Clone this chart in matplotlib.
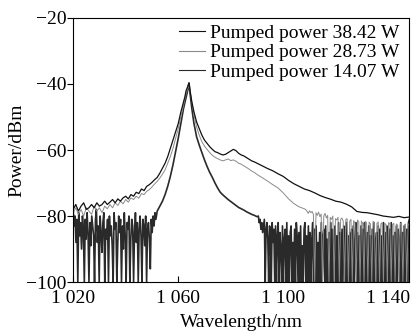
import numpy as np
import matplotlib
matplotlib.use("Agg")
import matplotlib.pyplot as plt

plt.rcParams['font.family'] = ['Liberation Serif', 'DejaVu Serif']
plt.rcParams['axes.unicode_minus'] = True

labels = ['Pumped power 38.42 W', 'Pumped power 28.73 W', 'Pumped power 14.07 W']
colors = ['#111111', '#8a8a8a', '#2a2a2a']

# 38.42 W spectrum
a_wl = [1020, 1021, 1022, 1023, 1024, 1025, 1026, 1027, 1028, 1029, 1030, 1031, 1032,
        1033, 1034, 1035, 1036, 1037, 1038, 1039, 1040, 1041, 1042, 1043, 1044, 1045,
        1046, 1047, 1048, 1049, 1050, 1051, 1052, 1053, 1054, 1055, 1056, 1057, 1058,
        1059, 1060, 1061, 1062, 1062.5, 1063, 1063.5, 1064.1, 1064.6, 1065.2, 1066,
        1067, 1068, 1069, 1070, 1071, 1072, 1073, 1074, 1075, 1076, 1077, 1078, 1079,
        1080, 1081, 1082, 1083, 1084, 1085, 1086, 1087, 1088, 1089, 1090, 1092, 1094,
        1096, 1098, 1100, 1102, 1104, 1106, 1108, 1110, 1112, 1114, 1116, 1118, 1120,
        1122, 1124, 1126, 1128, 1130, 1132, 1134, 1136, 1138, 1140, 1142, 1144, 1146, 1148]
a_dbm = [-78.0, -76.5, -78.5, -77.0, -76.0, -78.0, -77.5, -76.5, -77.5, -76.0, -77.0, -76.5,
         -75.5, -76.5, -75.8, -75.0, -76.0, -74.8, -75.5, -74.5, -74.0, -74.8, -73.5, -74.0,
         -72.8, -73.2, -71.8, -72.3, -71.0, -70.5, -69.8, -69.0, -68.3, -67.0, -65.5, -64.0,
         -62.0, -59.5, -57.0, -54.5, -52.0, -48.5, -45.5, -44.0, -42.0, -41.0, -39.6, -42.5,
         -45.5, -48.5, -51.5, -53.5, -55.5, -57.0, -58.0, -59.0, -59.8, -60.5, -60.8, -61.2,
         -61.5, -61.3, -60.8, -60.3, -59.8, -60.2, -61.0, -61.5, -61.8, -62.3, -62.8, -63.3,
         -63.6, -64.0, -64.8, -65.6, -66.3, -67.2, -68.0, -69.2, -70.2, -71.0, -71.8, -72.3,
         -73.0, -73.8, -74.4, -74.9, -75.5, -75.8, -76.4, -77.2, -78.6, -78.9, -79.0, -79.3,
         -79.6, -80.0, -80.2, -80.4, -80.1, -80.5, -80.3]

# 28.73 W spectrum
b_wl = [1020, 1021, 1022, 1023, 1024, 1025, 1026, 1027, 1028, 1029, 1030, 1031, 1032,
        1033, 1034, 1035, 1036, 1037, 1038, 1039, 1040, 1041, 1042, 1043, 1044, 1045,
        1046, 1047, 1048, 1049, 1050, 1051, 1052, 1053, 1054, 1055, 1056, 1057, 1058,
        1059, 1060, 1061, 1062, 1063, 1063.6, 1064.2, 1064.8, 1065.5, 1066.3, 1067, 1068,
        1069, 1070, 1071, 1072, 1073, 1074, 1075, 1076, 1077, 1078, 1079, 1080, 1081,
        1082, 1083, 1084, 1085, 1086, 1087, 1088, 1089, 1090, 1092, 1094, 1096, 1098,
        1100, 1102, 1104, 1106, 1108]
b_dbm = [-79.0, -77.5, -79.5, -78.0, -80.0, -77.5, -78.5, -79.5, -77.0, -78.5, -77.5, -79.0,
         -77.0, -77.8, -76.5, -77.5, -76.0, -76.8, -75.5, -76.3, -75.0, -75.8, -74.5, -75.0,
         -74.0, -74.6, -73.2, -73.5, -72.5, -72.0, -71.2, -70.3, -69.5, -68.5, -67.3, -66.0,
         -64.0, -62.0, -59.5, -56.5, -53.5, -50.0, -46.5, -43.0, -41.5, -40.2, -43.5, -47.0,
         -50.5, -53.0, -55.5, -57.5, -58.8, -59.8, -60.8, -61.6, -62.2, -62.6, -63.0, -63.3,
         -63.0, -62.7, -63.2, -63.0, -63.4, -64.0, -64.3, -64.8, -65.3, -65.8, -66.4, -66.8,
         -67.4, -68.4, -69.4, -70.5, -71.5, -73.0, -74.8, -76.2, -77.2, -77.8]
# noisy tail of the 28.73 W trace, 1108..1148 nm
b_tail = [-78.0, -78.5, -79.2, -78.4, -79.0, -78.6, -79.5, -100, -79.0, -79.8, -78.8, -80.2,
          -79.4, -100, -80.0, -79.2, -80.6, -79.8, -100, -80.4, -81.0, -80.0, -100, -80.8,
          -81.2, -80.4, -100, -81.0, -80.6, -81.5, -100, -81.0, -80.8, -100, -81.6, -81.0,
          -100, -81.4, -82.0, -100, -81.2, -81.8, -100, -81.5, -82.2, -100, -81.6, -82.0,
          -100, -81.8, -82.4, -100, -81.6, -82.0, -100, -82.2, -81.8, -100, -82.4, -82.0,
          -100, -82.2, -82.6, -100, -82.0, -82.4, -100, -82.6, -82.2, -100, -82.4, -82.8,
          -100, -82.2, -82.6, -100, -82.8, -82.4, -100, -82.6, -82.3]

# 14.07 W spectrum: noise floor left, line, noise floor right
c_left = [-78, -83, -80, -88, -81, -100, -79, -86, -82, -90, -80, -84, -100, -81, -87, -79,
          -85, -100, -82, -89, -80, -83, -86, -100, -81, -78, -88, -83, -100, -80, -85, -91,
          -82, -79, -100, -84, -87, -81, -100, -80, -86, -83, -89, -100, -79, -84, -82, -100,
          -88, -80, -85, -81, -100, -83, -90, -79, -86, -100, -82, -84, -80, -100, -87, -81,
          -83, -100, -85, -79, -88, -82, -100, -84, -80, -86, -100, -81, -83, -89, -80, -100,
          -84, -82, -87, -96, -81, -85, -80, -83, -79, -81]
c_mid_wl = [1052, 1053, 1054, 1055, 1056, 1057, 1058, 1059, 1060, 1061, 1062, 1063, 1063.6,
            1064.1, 1064.6, 1065.2, 1066, 1067, 1068, 1069, 1070, 1071, 1072, 1073, 1074,
            1075, 1076, 1077, 1078, 1079, 1080, 1081, 1082, 1083, 1084, 1085, 1086, 1087,
            1088, 1089, 1090]
c_mid_dbm = [-78.5, -77.0, -75.5, -73.5, -71.0, -68.0, -64.5, -60.5, -56.5, -52.0, -47.5,
             -44.0, -42.0, -39.8, -43.5, -47.5, -52.0, -56.0, -58.5, -60.8, -63.0, -65.0,
             -66.8, -68.3, -70.0, -71.5, -72.8, -73.6, -74.3, -75.0, -75.6, -76.2, -76.8,
             -77.4, -77.8, -78.2, -78.7, -79.1, -79.5, -79.8, -80.2]
c_right = [-80, -82, -81, -84, -82, -85, -83, -81, -100, -84, -82, -87, -100, -83, -85, -100,
           -82, -88, -84, -100, -83, -100, -86, -82, -100, -85, -90, -100, -83, -100, -87, -84,
           -100, -82, -100, -86, -100, -85, -83, -100, -88, -100, -84, -100, -82, -86, -100,
           -85, -100, -83, -100, -89, -100, -84, -82, -100, -86, -100, -83, -100, -85, -100,
           -87, -82, -100, -84, -100, -83, -100, -88, -100, -85, -100, -82, -100, -86, -84,
           -100, -83, -100, -87, -100, -85, -100, -82, -100, -84, -100, -88, -83, -100, -86,
           -100, -82, -100, -85, -100, -84, -100, -83, -87, -100, -82, -100, -86, -100, -85,
           -100, -84, -100, -83, -100, -88, -82, -100, -85, -100, -86, -100, -83, -100, -84,
           -100, -82, -87, -100, -85, -100, -83, -100, -86, -100, -84, -100, -82, -100, -88,
           -85, -100, -83, -100, -84, -100, -86, -100, -82, -100, -85, -100, -83, -87, -100,
           -84, -100, -82, -100, -86, -100, -85, -100, -83, -100, -84, -88, -100, -82, -100,
           -85, -100, -83, -100, -86, -84, -100, -82, -81]

b_wl_all = list(b_wl) + list(np.linspace(1108.5, 1148, len(b_tail)))
b_dbm_all = list(b_dbm) + b_tail
c_wl = list(np.linspace(1020, 1051.5, len(c_left))) + c_mid_wl + \
       list(np.linspace(1090.5, 1148, len(c_right)))
c_dbm = c_left + c_mid_dbm + c_right

fig = plt.figure(figsize=(4.11, 3.33), dpi=100)
ax = fig.add_axes([0.178, 0.153, 0.818, 0.793])

lc, = ax.plot(c_wl, c_dbm, color=colors[2], lw=1.2)
lb, = ax.plot(b_wl_all, b_dbm_all, color=colors[1], lw=0.7)
la, = ax.plot(a_wl, a_dbm, color=colors[0], lw=0.9)

ax.set_xlim(1020, 1148)
ax.set_ylim(-100, -20)
ax.set_xticks([1020, 1060, 1100, 1140])
ax.set_xticklabels(['1 020', '1 060', '1 100', '1 140'])
ax.set_yticks([-100, -80, -60, -40, -20])
ax.tick_params(axis='x', direction='in', length=4, labelsize=14, pad=6)
ax.tick_params(axis='y', direction='out', length=4, labelsize=14, pad=1)
ax.set_xlabel('Wavelength/nm', fontsize=14, labelpad=5)
ax.set_ylabel('Power/dBm', fontsize=14, labelpad=0)

leg = ax.legend([la, lb, lc], labels, loc='upper left', bbox_to_anchor=(0.315, 0.975),
                frameon=False, fontsize=14, handlelength=1.35, handletextpad=0.25,
                labelspacing=0.08, borderaxespad=0.0, borderpad=0.0)
for h in leg.get_lines():
    h.set_linewidth(0.8)

fig.savefig('out.png', dpi=100)
